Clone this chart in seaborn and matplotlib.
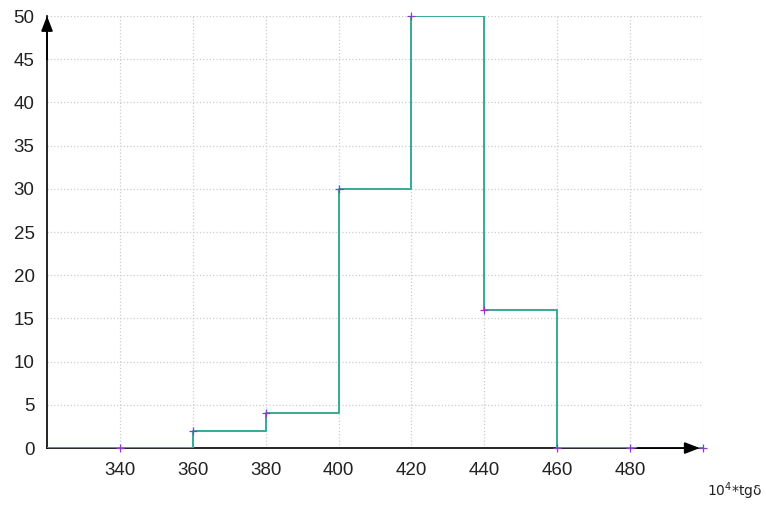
import numpy as np
import pandas as pd
import matplotlib
matplotlib.use('Agg')
import matplotlib.pyplot as plt
import seaborn as sns

# data
x_vals = [320, 340, 360, 380, 400, 420, 440, 460, 480, 500]
counts = [0, 0, 2, 4, 30, 50, 16, 0, 0, 0]
x_ticks = [340, 360, 380, 400, 420, 440, 460, 480]
y_ticks = [0, 5, 10, 15, 20, 25, 30, 35, 40, 45, 50]

df = pd.DataFrame({'x': x_vals, 'n': counts})

sns.set_style('white')
plt.rcParams['font.family'] = ['Liberation Sans', 'DejaVu Sans']

fig = plt.figure(figsize=(7.66, 5.08), dpi=100)
ax = fig.add_axes([0.0614, 0.118, 0.8564, 0.8505])

sns.lineplot(data=df, x='x', y='n', ax=ax, drawstyle='steps-post',
             color='#34ab94', linewidth=1.4, zorder=3)
sns.scatterplot(data=df[df['x'] > 320], x='x', y='n', ax=ax, marker='+',
                color='#8e3cc8', s=40, linewidth=0.9, zorder=4, clip_on=False)

ax.set_xlim(320, 500)
ax.set_ylim(0, 50)
ax.set_xticks(x_ticks)
ax.set_yticks(y_ticks)
ax.tick_params(axis='both', length=0, labelsize=13.5, colors='#222222')
ax.tick_params(axis='y', pad=9)
ax.tick_params(axis='x', pad=10)
ax.set_xlabel('')
ax.set_ylabel('')

# dotted grid
for xv in x_ticks + [500]:
    ax.axvline(xv, color='#cccccc', linestyle=':', linewidth=0.9, zorder=1)
for yv in y_ticks[1:]:
    ax.axhline(yv, color='#cccccc', linestyle=':', linewidth=0.9, zorder=1)

for s in ['top', 'right']:
    ax.spines[s].set_visible(False)
ax.spines['left'].set_color('black')
ax.spines['bottom'].set_color('black')
ax.spines['left'].set_linewidth(1.2)
ax.spines['bottom'].set_linewidth(1.2)

# arrow heads on the axes
arrow = dict(arrowstyle='-|>,head_length=0.9,head_width=0.35', color='black', lw=1.3,
             shrinkA=0, shrinkB=0)
ax.annotate('', xy=(0, 1.0), xytext=(0, 0.9), xycoords='axes fraction',
            arrowprops=arrow, annotation_clip=False)
ax.annotate('', xy=(0.995, 0), xytext=(0.9, 0), xycoords='axes fraction',
            arrowprops=arrow, annotation_clip=False)

fig.text(0.959, 0.034, r'10$^4$*tgδ', ha='center', va='center', fontsize=10,
         color='#222222', family=['DejaVu Sans'])

fig.savefig('out.png', dpi=100)
